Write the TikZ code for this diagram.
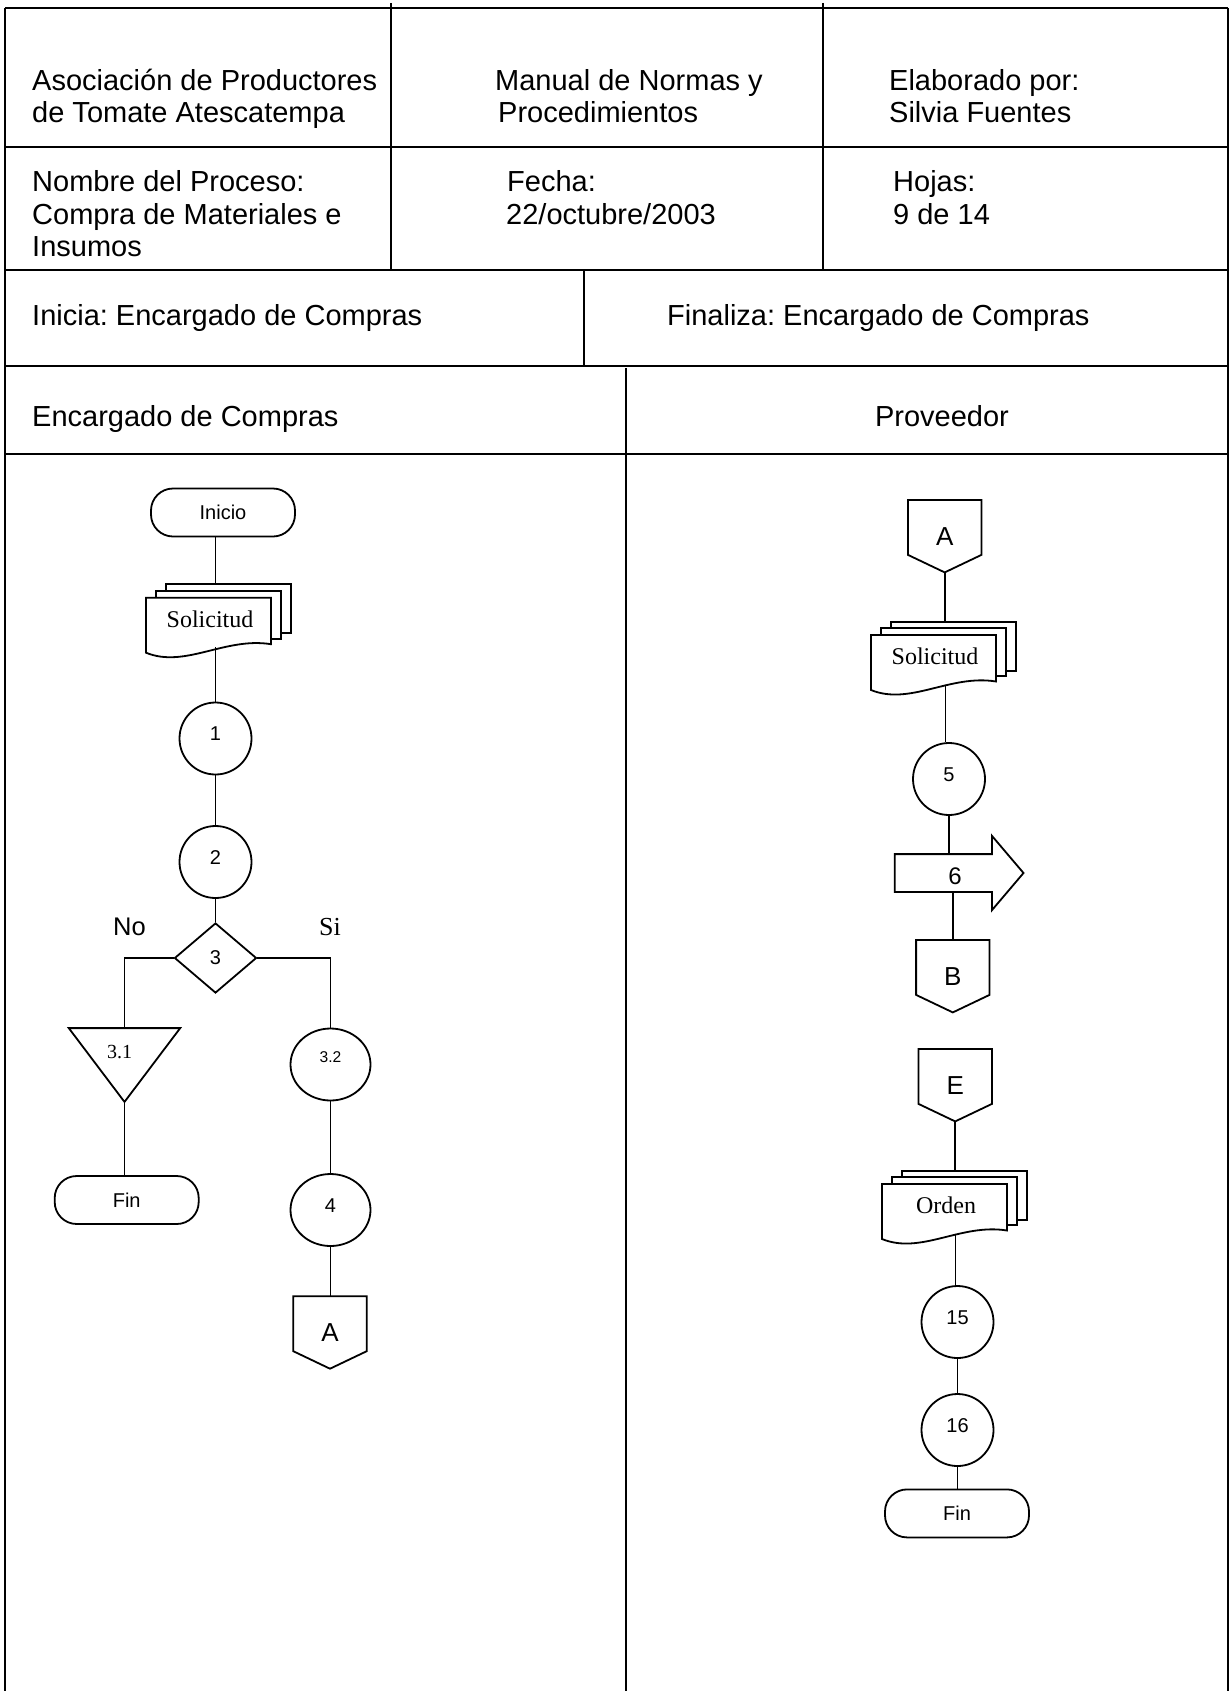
\documentclass[tikz,border=0pt]{standalone}
\usepackage{fontspec}
\setmainfont{Liberation Serif}
\newfontfamily\hfont{Liberation Sans}
\newfontfamily\sfont{Liberation Sans}
\usetikzlibrary{shapes.geometric,calc}
\frenchspacing

\tikzset{
  tbl/.style={line width=2pt},
  ln/.style={line width=1.8pt},
  hdr/.style={font=\hfont\fontsize{29}{32}\selectfont, anchor=base west, inner sep=0},
  termbox/.style={draw, line width=1.8pt, rounded corners=22pt, minimum width=144pt, minimum height=48pt, inner sep=0, font=\sfont\fontsize{20}{24}\selectfont},
  procc/.style={draw, line width=1.8pt, circle, minimum size=72pt, inner sep=0, font=\sfont\fontsize{20}{24}\selectfont, text height=10pt, text depth=6pt},
  ovalbox/.style={draw, line width=1.8pt, ellipse, minimum width=80pt, minimum height=72pt, inner sep=0, font=\sfont\fontsize{20}{24}\selectfont, text height=10pt, text depth=6pt},
  decbox/.style={draw, line width=1.8pt, diamond, minimum width=82pt, minimum height=70pt, inner sep=0, font=\sfont\fontsize{20}{24}\selectfont},
  offbox/.style={minimum width=73pt, minimum height=72pt, inner sep=0, font=\sfont\fontsize{26}{30}\selectfont},
  doctext/.style={anchor=base, inner sep=0, font=\fontsize{24}{28}\selectfont},
  sanslbl/.style={anchor=base west, inner sep=0, font=\sfont\fontsize{25.5}{30}\selectfont},
  seriflbl/.style={anchor=base west, inner sep=0, font=\fontsize{26}{30}\selectfont},
}

\newcommand\offpage[1]{%
  \draw[ln] (#1.north west) -- (#1.north east) -- ($(#1.south east)+(0,-17.5)$)
    -- (#1.south) -- ($(#1.south west)+(0,-17.5)$) -- cycle;}

% name, x0, y0, column x, text
\newcommand\mdoc[5]{%
  \draw[ln] (#2+20,#3-6.7) -- (#2+20,#3-13.4) -- (#2+145,#3-13.4) -- (#2+145,#3+35.6) -- (#2+135,#3+35.6);
  \draw[ln] (#2+10,#3) -- (#2+10,#3-6.7) -- (#2+135,#3-6.7) -- (#2+135,#3+41.3) -- (#2+125,#3+41.3);
  \draw[ln] (#2,#3) -- (#2+125,#3) -- (#2+125,#3+46.5)
     .. controls (#2+79,#3+39) and (#2+39,#3+71) .. (#2,#3+55) -- cycle;
  \node[doctext] (#1) at (#2+64,#3+29.3) {#5};
  \coordinate (#1-t) at (#4,#3-13.4);
  \coordinate (#1-b) at (#4,#3+49.5);
}

\begin{document}
\begin{tikzpicture}[x=1pt,y=-1pt]
\useasboundingbox (0,0) rectangle (1230,1691);

% ---------- table ----------
\draw[tbl] (5,8) -- (1228,8);
\draw[tbl] (5,8) -- (5,1691);
\draw[tbl] (1228,8) -- (1228,1691);
\draw[tbl] (391,3) -- (391,269.5);
\draw[tbl] (823,3) -- (823,269.5);
\draw[tbl] (5,147) -- (1228,147);
\draw[tbl] (5,269.5) -- (1228,269.5);
\draw[tbl] (583.5,269.5) -- (583.5,365.5);
\draw[tbl] (5,365.5) -- (1228,365.5);
\draw[tbl] (5,453.5) -- (1228,453.5);
\draw[tbl] (626,368) -- (626,1691);

% ---------- header texts ----------
\node[hdr] (h1) at (32,91) {Asociación de Productores};
\node[hdr] (h2) at (32,123) {de Tomate Atescatempa};
\node[hdr] (h3) at (495,91) {Manual de Normas y};
\node[hdr] (h4) at (498,123) {Procedimientos};
\node[hdr] (h5) at (889,91) {Elaborado por:};
\node[hdr] (h6) at (889,123) {Silvia Fuentes};
\node[hdr] (h7) at (32,191) {Nombre del Proceso:};
\node[hdr] (h8) at (32,224) {Compra de Materiales e};
\node[hdr] (h9) at (32,256) {Insumos};
\node[hdr] (h10) at (507,191) {Fecha:};
\node[hdr] (h11) at (506,224) {22/octubre/2003};
\node[hdr] (h12) at (893,191) {Hojas:};
\node[hdr] (h13) at (893,224) {9 de 14};
\node[hdr] (h14) at (32,325) {Inicia: Encargado de Compras};
\node[hdr] (h15) at (667,325) {Finaliza: Encargado de Compras};
\node[hdr] (h16) at (32,426) {Encargado de Compras};
\node[hdr, anchor=base] (h17) at (942,426) {Proveedor};

% ---------- left lane ----------
\node[termbox] (ini) at (223,512.5) {Inicio};
\coordinate (colL) at (215.5,0);
\mdoc{sol1}{146}{597.7}{215.5}{Solicitud}
\node[procc] (c1) at (215.5,738.5) {1};
\node[procc] (c2) at (215.5,862) {2};
\node[decbox] (d3) at (215.5,958) {3};
\node[sanslbl] (no) at (113,935) {No};
\node[seriflbl] (si) at (319,935) {Si};

\node[minimum width=111pt, minimum height=73.4pt, inner sep=0] (t31) at (124.5,1065) {};
\draw[ln] (t31.north west) -- (t31.north east) -- (t31.south) -- cycle;
\node[inner sep=0, font=\fontsize{20}{24}\selectfont] (t31t) at (119.5,1052) {3.1};
\node[termbox] (fin1) at (126.7,1200) {Fin};

\node[ovalbox, text height=4pt, text depth=8.4pt, font=\sfont\fontsize{15.6}{18}\selectfont] (c32) at (330.5,1064.5) {3.2};
\node[ovalbox] (c4) at (330.5,1210) {4};
\node[offbox] (a1) at (330,1332.5) {A};
\offpage{a1}

\draw[ln] (ini.south -| colL) -- (sol1-t);
\draw[ln] (sol1-b) -- (c1.north);
\draw[ln] (c1.south) -- (c2.north);
\draw[ln] (c2.south) -- (d3.north);
\draw[ln] (d3.west) -| (t31.north);
\draw[ln] (t31.south) -- (t31.south |- fin1.north);
\draw[ln] (d3.east) -| (c32.north);
\draw[ln] (c32.south) -- (c4.north);
\draw[ln] (c4.south) -- (c4.south |- a1.north);

% ---------- right lane ----------
\node[offbox] (a2) at (944.7,536.2) {A};
\offpage{a2}
\mdoc{sol2}{871}{635}{945.5}{Solicitud}
\node[procc] (c5) at (949,779) {5};
\node[minimum width=96.7pt, minimum height=37.4pt, inner sep=0] (ar6) at (943.35,873) {};
\draw[ln] (ar6.north west) -- (ar6.north east) -- ++(0,-18.3) -- ($(ar6.east)+(31.6,0)$)
   -- ($(ar6.south east)+(0,18.3)$) -- (ar6.south east) -- (ar6.south west) -- cycle;
\node[inner sep=0, font=\sfont\fontsize{24}{28}\selectfont] (ar6t) at (955,876.7) {6};
\node[offbox] (b1) at (952.8,976.2) {B};
\offpage{b1}
\node[offbox] (e1) at (955.2,1085.2) {E};
\offpage{e1}
\mdoc{ord}{882}{1184}{955.5}{Orden}
\node[procc] (c15) at (957.5,1322) {15};
\node[procc] (c16) at (957.5,1430) {16};
\node[termbox] (fin2) at (957,1513.4) {Fin};

\draw[ln] (a2.south) -- (a2.south |- sol2-t);
\draw[ln] (sol2-b) -- (sol2-b |- c5.north);
\draw[ln] (c5.south) -- (c5.south |- ar6.north);
\draw[ln] (b1.north |- ar6.south) -- (b1.north);
\draw[ln] (e1.south) -- (e1.south |- ord-t);
\draw[ln] (ord-b) -- (ord-b |- c15.north);
\draw[ln] (c15.south) -- (c16.north);
\draw[ln] (c16.south) -- (c16.south |- fin2.north);
\end{tikzpicture}
\end{document}
